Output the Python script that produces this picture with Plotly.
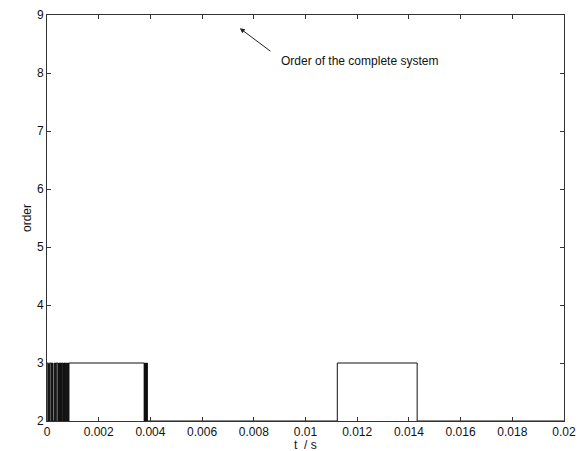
import plotly.graph_objects as go

# Step signal: time (s) and model order
t = [0, 0.00003, 0.00006, 0.00008, 0.0001, 0.00015, 0.00017, 0.00019, 0.00021, 0.00023,
     0.00028, 0.0003, 0.00032, 0.00034, 0.00036, 0.00042, 0.00044, 0.00045, 0.00047,
     0.00049, 0.0005, 0.00052, 0.00054, 0.00056, 0.00058, 0.00061, 0.00063, 0.00064,
     0.00066, 0.00068, 0.00069, 0.00071, 0.00073, 0.00075, 0.00077, 0.00079, 0.00081,
     0.00083, 0.00085,
     0.00376, 0.00377, 0.00378, 0.00379, 0.0038, 0.00381, 0.00382, 0.00383, 0.00384,
     0.00385, 0.00386, 0.00387, 0.00388,
     0.01123, 0.01432, 0.02]
order = [3, 2, 3, 2, 3, 2, 3, 2, 3, 2,
         3, 2, 3, 2, 3, 2, 3, 2, 3,
         2, 3, 2, 3, 2, 3, 2, 3, 2,
         3, 2, 3, 2, 3, 2, 3, 2, 3,
         2, 3,
         2, 3, 2, 3, 2, 3, 2, 3, 2,
         3, 2, 3, 2,
         3, 2, 2]

x_ticks = [0, 0.002, 0.004, 0.006, 0.008, 0.01, 0.012, 0.014, 0.016, 0.018, 0.02]
x_ticklabels = ["0", "0.002", "0.004", "0.006", "0.008", "0.01", "0.012", "0.014", "0.016", "0.018", "0.02"]
y_ticks = [2, 3, 4, 5, 6, 7, 8, 9]
y_ticklabels = ["2", "3", "4", "5", "6", "7", "8", "9"]

FONT = "Liberation Sans, Arial, sans-serif"
AX = "#333333"
TXT = "#111111"

fig = go.Figure()
fig.add_trace(go.Scatter(x=t, y=order, mode="lines", line=dict(color="#111111", width=1, shape="hv"),
                         hoverinfo="skip", showlegend=False))

axis_common = dict(showline=True, linecolor=AX, linewidth=1, mirror="allticks", ticks="inside",
                   ticklen=4, tickcolor=AX, showgrid=False, zeroline=False,
                   tickfont=dict(family=FONT, size=12, color=TXT), automargin=False)

fig.update_xaxes(range=[0, 0.02], tickvals=x_ticks, ticktext=x_ticklabels, **axis_common)
fig.update_yaxes(range=[2, 9], tickvals=y_ticks, ticktext=y_ticklabels, **axis_common)

# axis titles
fig.add_annotation(x=0.5, y=0, xref="paper", yref="paper", xanchor="center", yanchor="top",
                   yshift=-15, text="t  / s", showarrow=False, font=dict(family=FONT, size=12, color=TXT))
fig.add_annotation(x=0, y=0.5, xref="paper", yref="paper", xanchor="center", yanchor="middle",
                   xshift=-20, textangle=-90, text="order", showarrow=False,
                   font=dict(family=FONT, size=12, color=TXT))

# callout
fig.add_annotation(x=0.00746, y=8.77, ax=0.0087, ay=8.357, axref="x", ayref="y", xref="x", yref="y",
                   text="", showarrow=True, arrowhead=2, arrowsize=1, arrowwidth=1, arrowcolor="#222222")
fig.add_annotation(x=0.00897, y=8.2, xref="x", yref="y", xanchor="left", yanchor="middle",
                   text="Order of the complete system", showarrow=False,
                   font=dict(family=FONT, size=12, color=TXT))

fig.update_layout(width=577, height=443, margin=dict(l=39, r=21, t=7, b=30),
                  paper_bgcolor="white", plot_bgcolor="white",
                  font=dict(family=FONT, size=12, color=TXT))

fig.write_html("out.html")
